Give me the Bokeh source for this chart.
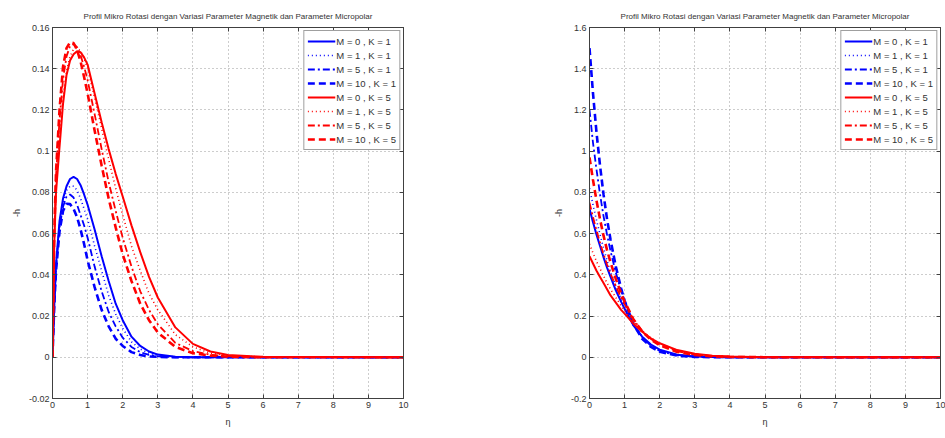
from bokeh.plotting import figure
from bokeh.models import Legend, LegendItem, LinearAxis, FixedTicker
from bokeh.layouts import row
from bokeh.embed import file_html
from bokeh.resources import INLINE

TITLE = "Profil Mikro Rotasi dengan Variasi Parameter Magnetik dan Parameter Micropolar"
X_LABEL = "η"
Y_LABEL = "-h"
labels = ["M = 0 , K = 1", "M = 1 , K = 1", "M = 5 , K = 1", "M = 10 , K = 1",
          "M = 0 , K = 5", "M = 1 , K = 5", "M = 5 , K = 5", "M = 10 , K = 5"]

x_ticks = [0, 1, 2, 3, 4, 5, 6, 7, 8, 9, 10]

# ---- left panel: micro rotation profile ----
eta_a = [0, 0.05, 0.1, 0.2, 0.3, 0.4, 0.5, 0.6, 0.7, 0.8, 0.9, 1.0, 1.2, 1.4, 1.6, 1.8,
         2.0, 2.25, 2.5, 2.75, 3.0, 3.5, 4.0, 4.5, 5.0, 6.0, 10.0]
a_M0_K1 = [0, 0.025, 0.045, 0.066, 0.077, 0.083, 0.0865, 0.0875, 0.0865, 0.0835, 0.079, 0.074,
           0.062, 0.049, 0.037, 0.026, 0.018, 0.010, 0.0055, 0.0028, 0.0013, 0.0003, 0, 0, 0, 0, 0]
a_M1_K1 = [0, 0.025, 0.044, 0.065, 0.075, 0.081, 0.083, 0.083, 0.081, 0.077, 0.072, 0.067,
           0.054, 0.042, 0.030, 0.021, 0.014, 0.0075, 0.004, 0.002, 0.001, 0.0002, 0, 0, 0, 0, 0]
a_M5_K1 = [0, 0.025, 0.043, 0.063, 0.073, 0.078, 0.079, 0.0775, 0.074, 0.069, 0.064, 0.058,
           0.044, 0.032, 0.022, 0.015, 0.0095, 0.005, 0.0025, 0.0012, 0.0005, 0, 0, 0, 0, 0, 0]
a_M10_K1 = [0, 0.025, 0.042, 0.061, 0.071, 0.0745, 0.0743, 0.072, 0.068, 0.062, 0.055, 0.047,
            0.034, 0.023, 0.015, 0.009, 0.0055, 0.0025, 0.0011, 0.0004, 0.0002, 0, 0, 0, 0, 0, 0]
a_M0_K5 = [0, 0.055, 0.08, 0.102, 0.123, 0.137, 0.144, 0.147, 0.1485, 0.148, 0.1455, 0.142,
           0.128, 0.114, 0.101, 0.089, 0.078, 0.064, 0.051, 0.039, 0.029, 0.0145, 0.0065, 0.0028, 0.0011, 0.0002, 0]
a_M1_K5 = [0, 0.056, 0.083, 0.106, 0.126, 0.139, 0.146, 0.1495, 0.150, 0.1485, 0.145, 0.140,
           0.126, 0.111, 0.096, 0.082, 0.069, 0.054, 0.042, 0.031, 0.023, 0.011, 0.005, 0.002, 0.0008, 0.0001, 0]
a_M5_K5 = [0, 0.058, 0.088, 0.115, 0.135, 0.146, 0.151, 0.152, 0.1505, 0.1465, 0.141, 0.1345,
           0.118, 0.101, 0.085, 0.071, 0.058, 0.044, 0.032, 0.023, 0.016, 0.007, 0.003, 0.0012, 0.0005, 0.0001, 0]
a_M10_K5 = [0, 0.06, 0.09, 0.12, 0.141, 0.150, 0.1528, 0.1525, 0.149, 0.1435, 0.136, 0.128,
            0.110, 0.093, 0.077, 0.063, 0.050, 0.037, 0.026, 0.018, 0.012, 0.005, 0.002, 0.0008, 0.0003, 0, 0]
a_yticks = [-0.02, 0, 0.02, 0.04, 0.06, 0.08, 0.1, 0.12, 0.14, 0.16]
a_ylabels = ["-0.02", "0", "0.02", "0.04", "0.06", "0.08", "0.1", "0.12", "0.14", "0.16"]

# ---- right panel ----
eta_b = [0, 0.1, 0.2, 0.3, 0.4, 0.5, 0.6, 0.75, 0.9, 1.0, 1.25, 1.5, 1.75, 2.0, 2.5, 3.0, 3.5, 4.0, 5.0, 10.0]
b_M0_K1 = [0.72, 0.655, 0.595, 0.54, 0.485, 0.435, 0.39, 0.325, 0.27, 0.235, 0.155, 0.10, 0.062,
           0.037, 0.012, 0.0035, 0.001, 0.0003, 0, 0]
b_M1_K1 = [0.82, 0.74, 0.665, 0.595, 0.53, 0.47, 0.415, 0.345, 0.285, 0.248, 0.16, 0.10, 0.06,
           0.035, 0.011, 0.003, 0.0008, 0.0002, 0, 0]
b_M5_K1 = [1.20, 1.04, 0.91, 0.79, 0.685, 0.595, 0.515, 0.41, 0.325, 0.275, 0.165, 0.097, 0.056,
           0.031, 0.009, 0.0025, 0.0006, 0, 0, 0]
b_M10_K1 = [1.50, 1.28, 1.09, 0.93, 0.79, 0.67, 0.57, 0.44, 0.335, 0.275, 0.16, 0.09, 0.05,
            0.027, 0.008, 0.002, 0.0005, 0, 0, 0]
b_M0_K5 = [0.49, 0.455, 0.42, 0.39, 0.36, 0.33, 0.30, 0.265, 0.23, 0.212, 0.163, 0.124, 0.092,
           0.068, 0.035, 0.017, 0.0075, 0.0032, 0.0006, 0]
b_M1_K5 = [0.55, 0.505, 0.465, 0.43, 0.395, 0.36, 0.33, 0.29, 0.25, 0.228, 0.172, 0.127, 0.093,
           0.067, 0.033, 0.015, 0.0065, 0.0027, 0.0005, 0]
b_M5_K5 = [0.75, 0.68, 0.615, 0.555, 0.50, 0.45, 0.405, 0.345, 0.29, 0.258, 0.183, 0.128, 0.089,
           0.062, 0.029, 0.013, 0.0055, 0.0022, 0.0004, 0]
b_M10_K5 = [0.97, 0.86, 0.76, 0.67, 0.59, 0.52, 0.46, 0.38, 0.31, 0.27, 0.185, 0.125, 0.085,
            0.058, 0.026, 0.011, 0.0045, 0.0018, 0.0003, 0]
b_yticks = [-0.2, 0, 0.2, 0.4, 0.6, 0.8, 1.0, 1.2, 1.4, 1.6]
b_ylabels = ["-0.2", "0", "0.2", "0.4", "0.6", "0.8", "1", "1.2", "1.4", "1.6"]

styles = [
    ("#0000ff", "solid", 2.0), ("#0000ff", "1 3", 1.6), ("#0000ff", "7 3 2 3", 1.8), ("#0000ff", "7 4", 2.6),
    ("#ff0000", "solid", 2.0), ("#ff0000", "1 3", 1.6), ("#ff0000", "7 3 2 3", 1.8), ("#ff0000", "7 4", 2.6),
]

FONT = "Liberation Sans"
AX = "#404040"


def make_fig(eta, series, yr, yticks, ylabels, width, bl, br):
    p = figure(width=width, height=438, x_range=(0, 10), y_range=yr,
               output_backend="svg", toolbar_location=None, title=TITLE,
               min_border_left=bl, min_border_right=br, min_border_top=27, min_border_bottom=40)
    p.title.align = "center"
    p.title.text_font = FONT
    p.title.text_font_size = "8px"
    p.title.text_font_style = "normal"
    p.title.text_color = "#333333"
    p.title.standoff = 13
    p.background_fill_color = "white"
    p.border_fill_color = "white"
    p.outline_line_color = AX
    p.outline_line_width = 1

    p.xaxis.ticker = FixedTicker(ticks=x_ticks)
    p.yaxis.ticker = FixedTicker(ticks=yticks)
    p.yaxis.major_label_overrides = {t: l for t, l in zip(yticks, ylabels)}
    p.xaxis.axis_label = X_LABEL
    p.yaxis.axis_label = Y_LABEL
    for ax in (p.xaxis, p.yaxis):
        ax.axis_line_color = AX
        ax.major_tick_in = 4
        ax.major_tick_out = 0
        ax.major_tick_line_color = AX
        ax.minor_tick_line_color = None
        ax.major_label_text_font = FONT
        ax.major_label_text_font_size = "9px"
        ax.major_label_text_color = "#333333"
        ax.axis_label_text_font = FONT
        ax.axis_label_text_font_size = "9px"
        ax.axis_label_text_font_style = "normal"
        ax.axis_label_text_color = "#333333"
        ax.major_label_standoff = 3
    p.yaxis.axis_label_standoff = 4
    p.xaxis.axis_label_standoff = 6

    # MATLAB-style box: tick marks on top and right edges, no labels
    for loc, tick in (("right", FixedTicker(ticks=yticks)), ("above", FixedTicker(ticks=x_ticks))):
        ax = LinearAxis(ticker=tick, major_label_text_color=None, major_label_text_font_size="1px",
                        major_label_standoff=0,
                        major_tick_in=4, major_tick_out=0, major_tick_line_color=AX,
                        minor_tick_line_color=None, axis_line_color=AX)
        p.add_layout(ax, loc)

    p.grid.grid_line_color = "#9a9a9a"
    p.grid.grid_line_dash = "1 3"
    p.grid.grid_line_width = 1

    items = []
    for lab, ys, (c, d, w) in zip(labels, series, styles):
        r = p.line(eta, ys, line_color=c, line_dash=d, line_width=w)
        items.append(LegendItem(label=lab, renderers=[r]))
    legend = Legend(items=items, location="top_right", margin=3, padding=3, spacing=0,
                    label_text_font=FONT, label_text_font_size="9.5px", label_text_color="#333333",
                    label_height=14, glyph_height=14, glyph_width=28, label_standoff=1,
                    border_line_color=AX, border_line_width=1, background_fill_alpha=1)
    p.add_layout(legend)
    return p


p1 = make_fig(eta_a, [a_M0_K1, a_M1_K1, a_M5_K1, a_M10_K1, a_M0_K5, a_M1_K5, a_M5_K5, a_M10_K5],
              (-0.02, 0.16), a_yticks, a_ylabels, 470, 52, 67)
p2 = make_fig(eta_b, [b_M0_K1, b_M1_K1, b_M5_K1, b_M10_K1, b_M0_K5, b_M1_K5, b_M5_K5, b_M10_K5],
              (-0.2, 1.6), b_yticks, b_ylabels, 475, 119, 5)

layout = row(p1, p2)
open("out.html", "w").write(file_html(layout, INLINE))
